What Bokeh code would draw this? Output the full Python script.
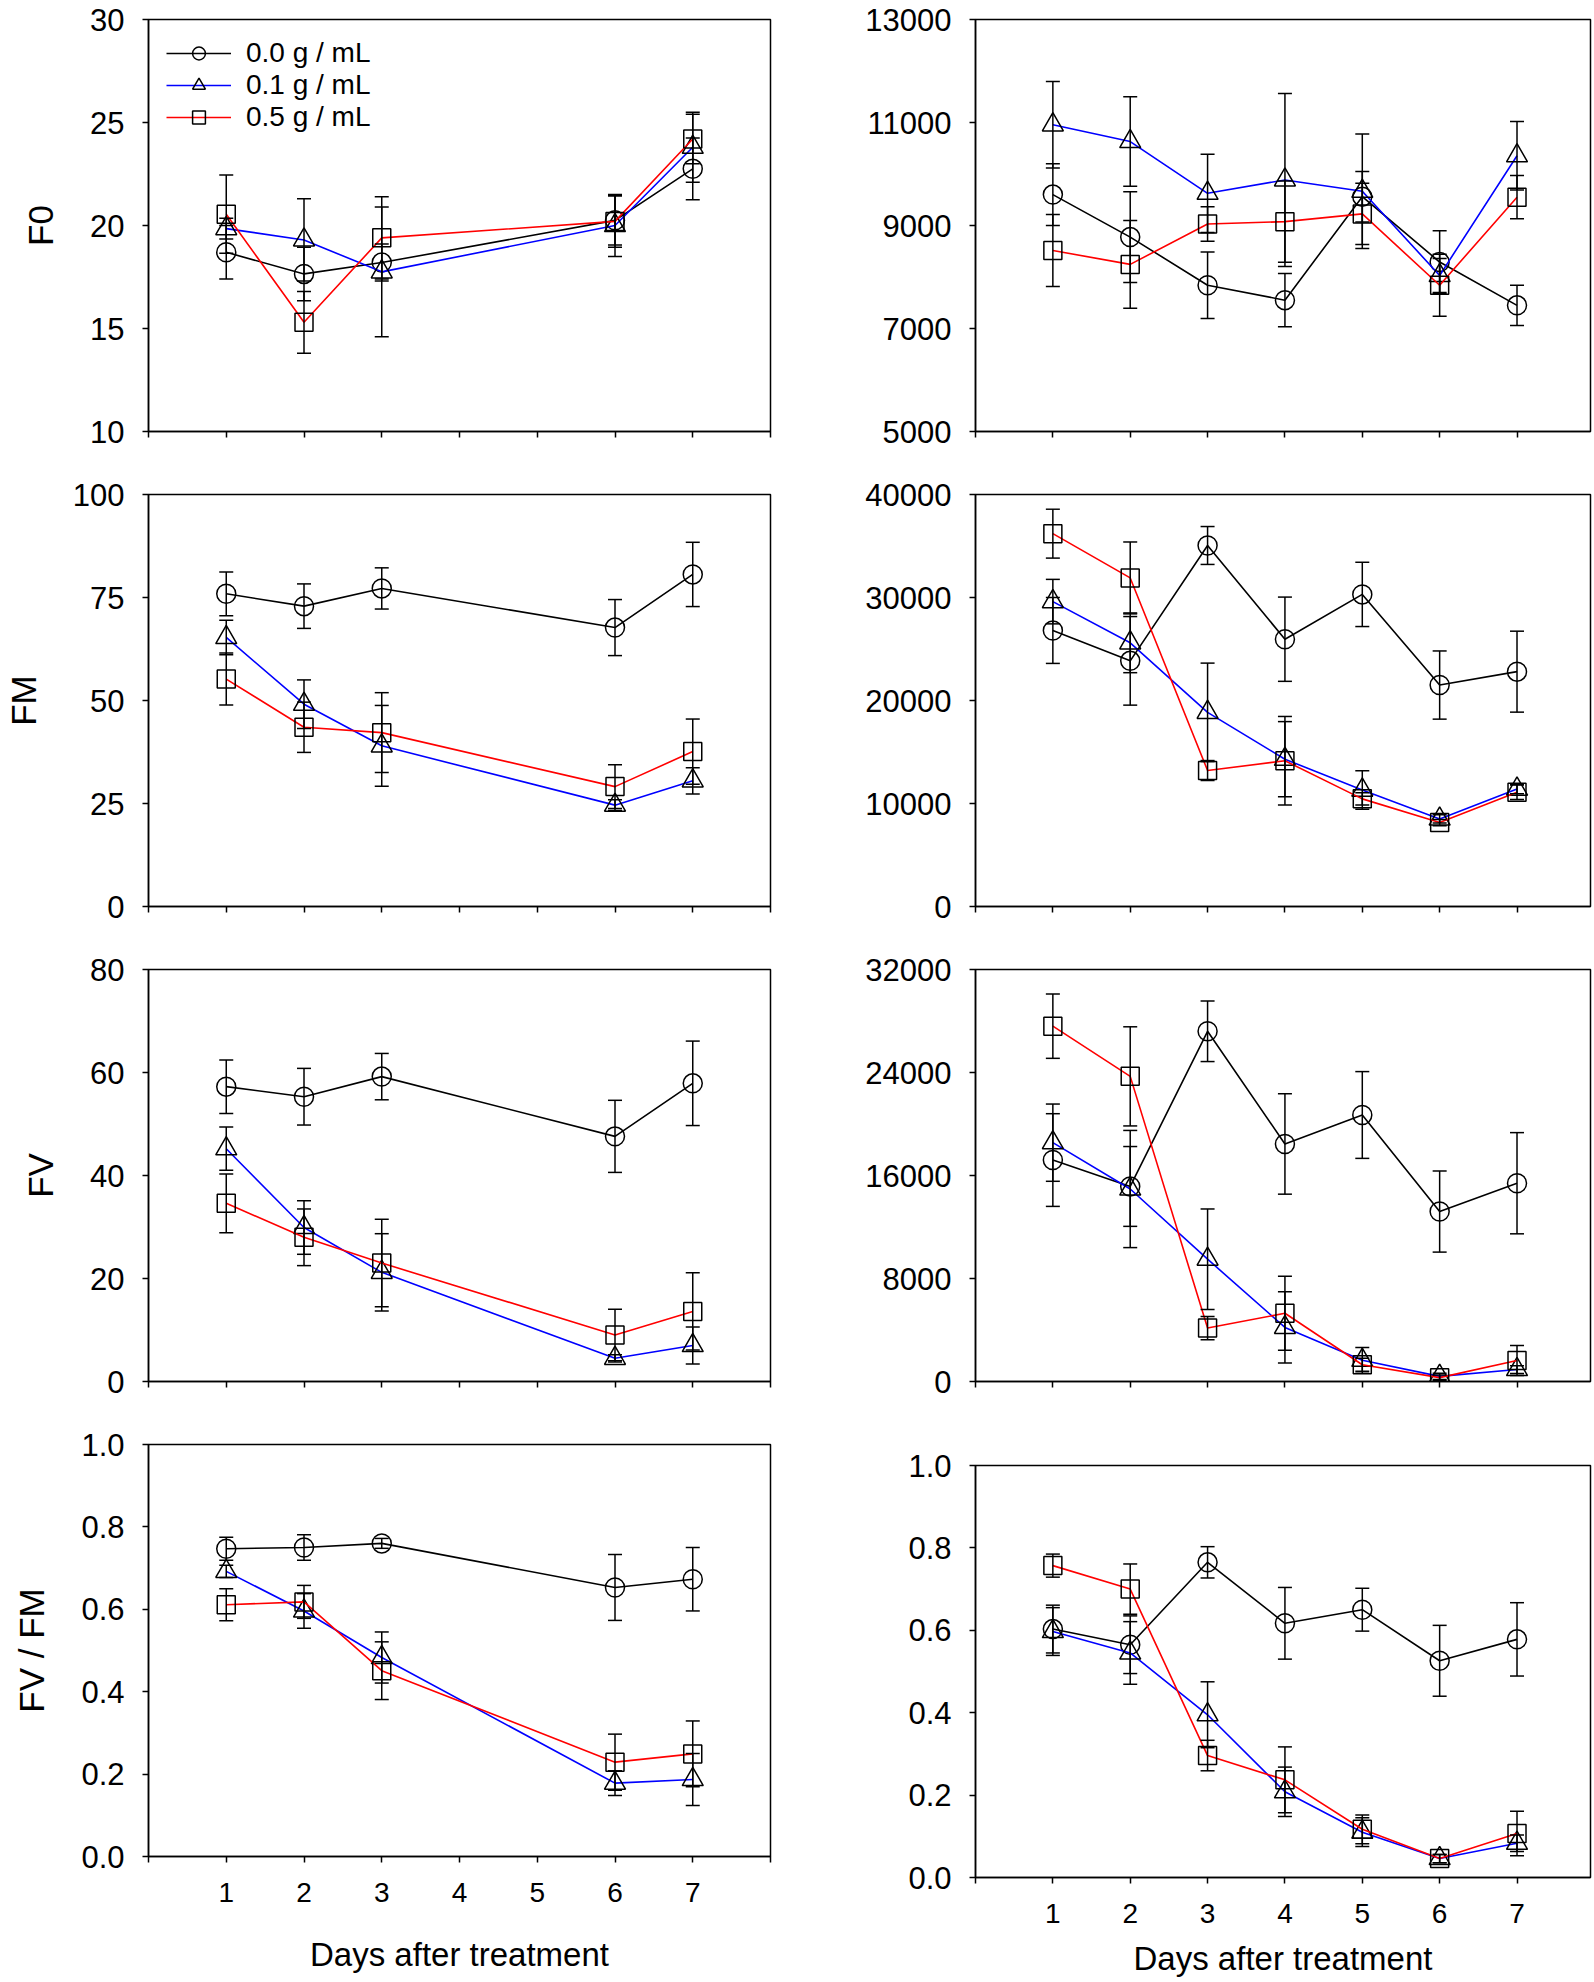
from bokeh.plotting import figure
from bokeh.models import (ColumnDataSource, Whisker, TeeHead, FixedTicker, Range1d,
                          Legend, LegendItem, PrintfTickFormatter)
from bokeh.layouts import row, column
from bokeh.embed import file_html
from bokeh.resources import INLINE

# ---------------- data ----------------
days_left = [1, 2, 3, 6, 7]
days_right = [1, 2, 3, 4, 5, 6, 7]
series_labels = ["0.0 g / mL", "0.1 g / mL", "0.5 g / mL"]
x_tick_labels = ["1", "2", "3", "4", "5", "6", "7"]

# F0 (left)
f0_l_c0 = [18.7, 17.65, 18.2, 20.25, 22.75]
f0_l_c0_err = [1.3, 1.3, 0.9, 1.2, 1.5]
f0_l_c1 = [19.85, 19.3, 17.75, 20.0, 23.8]
f0_l_c1_err = [0.5, 2.0, 3.15, 1.5, 1.7]
f0_l_c5 = [20.55, 15.3, 19.4, 20.2, 24.2]
f0_l_c5_err = [1.9, 1.5, 2.0, 1.25, 1.2]

# F0 (right)
f0_r_c0 = [9600, 8775, 7840, 7550, 9560, 8290, 7450]
f0_r_c0_err = [600, 880, 645, 516, 490, 610, 390]
f0_r_c1 = [10955, 10630, 9625, 9885, 9665, 8030, 10355]
f0_r_c1_err = [840, 870, 760, 1680, 1110, 330, 665]
f0_r_c5 = [8515, 8245, 9030, 9075, 9225, 7840, 9550]
f0_r_c5_err = [700, 850, 335, 790, 594, 600, 420]

# FM (left)
fm_l_c0 = [75.9, 72.9, 77.2, 67.7, 80.6]
fm_l_c0_err = [5.3, 5.4, 5.0, 6.8, 7.8]
fm_l_c1 = [65.3, 49.1, 39.0, 24.6, 30.5]
fm_l_c1_err = [4.2, 5.9, 9.8, 1.3, 3.2]
fm_l_c5 = [55.2, 43.5, 42.2, 29.1, 37.6]
fm_l_c5_err = [6.3, 6.1, 9.7, 5.3, 7.9]

# FM (right)
fm_r_c0 = [26800, 23850, 35050, 25950, 30300, 21500, 22800]
fm_r_c0_err = [3200, 4300, 1840, 4090, 3120, 3310, 3930]
fm_r_c1 = [29600, 25600, 18850, 14300, 11300, 8500, 11400]
fm_r_c1_err = [2160, 2900, 4780, 3650, 1870, 400, 450]
fm_r_c5 = [36200, 31900, 13200, 14150, 10450, 8150, 11100]
fm_r_c5_err = [2375, 3490, 970, 4300, 600, 300, 700]

# FV (left)
fv_l_c0 = [57.25, 55.3, 59.2, 47.6, 57.9]
fv_l_c0_err = [5.2, 5.5, 4.5, 7.0, 8.2]
fv_l_c1 = [45.2, 29.9, 21.2, 4.5, 7.0]
fv_l_c1_err = [4.2, 5.2, 7.5, 0.7, 3.6]
fv_l_c5 = [34.6, 28.0, 23.0, 9.05, 13.6]
fv_l_c5_err = [5.7, 5.5, 8.5, 5.0, 7.5]

# FV (right)
fv_r_c0 = [17200, 15150, 27200, 18450, 20700, 13200, 15400]
fv_r_c0_err = [3600, 3100, 2350, 3900, 3370, 3150, 3930]
fv_r_c1 = [18550, 14950, 9500, 4200, 1650, 400, 930]
fv_r_c1_err = [3000, 4550, 3900, 2770, 1000, 250, 300]
fv_r_c5 = [27600, 23700, 4150, 5300, 1300, 300, 1630]
fv_r_c5_err = [2500, 3850, 900, 2870, 500, 200, 1160]

# FV / FM (left)
ratio_l_c0 = [0.747, 0.750, 0.760, 0.653, 0.673]
ratio_l_c0_err = [0.028, 0.031, 0.012, 0.080, 0.077]
ratio_l_c1 = [0.692, 0.596, 0.483, 0.178, 0.187]
ratio_l_c1_err = [0.015, 0.042, 0.062, 0.030, 0.063]
ratio_l_c5 = [0.611, 0.618, 0.451, 0.229, 0.249]
ratio_l_c5_err = [0.039, 0.040, 0.070, 0.068, 0.080]

# FV / FM (right)
ratio_r_c0 = [0.603, 0.565, 0.765, 0.617, 0.650, 0.526, 0.578]
ratio_r_c0_err = [0.058, 0.070, 0.038, 0.087, 0.052, 0.086, 0.089]
ratio_r_c1 = [0.597, 0.545, 0.395, 0.208, 0.110, 0.046, 0.083]
ratio_r_c1_err = [0.058, 0.076, 0.080, 0.060, 0.035, 0.010, 0.020]
ratio_r_c5 = [0.757, 0.700, 0.296, 0.237, 0.117, 0.046, 0.107]
ratio_r_c5_err = [0.028, 0.061, 0.037, 0.080, 0.035, 0.010, 0.054]

y_ticks_f0_l = [10, 15, 20, 25, 30]
y_ticks_f0_r = [5000, 7000, 9000, 11000, 13000]
y_ticks_fm_l = [0, 25, 50, 75, 100]
y_ticks_fm_r = [0, 10000, 20000, 30000, 40000]
y_ticks_fv_l = [0, 20, 40, 60, 80]
y_ticks_fv_r = [0, 8000, 16000, 24000, 32000]
y_ticks_ratio = [0.0, 0.2, 0.4, 0.6, 0.8, 1.0]

# ---------------- styling ----------------
FONT = "Liberation Sans"
LINE_COLORS = ["black", "#0000ff", "#ff0000"]
MARKERS = ["circle", "triangle", "square"]
MARKER_SIZES = [19, 21, 18]

LEFT_W, RIGHT_W = 780, 812
LEFT_BL, LEFT_BR = 148, 10
RIGHT_BL, RIGHT_BR = 195, 2
FRAME_H = 412
ROW_H = 475
LAST_H = 555


def make_panel(days, series, errs, yticks, ylabel, fmt, side, row_idx,
               legend=False):
    last = row_idx == 3
    if side == "left":
        width, bl, br, xend = LEFT_W, LEFT_BL, LEFT_BR, 8
        top = 19
    else:
        width, bl, br, xend = RIGHT_W, RIGHT_BL, RIGHT_BR, 7.95
        top = 40 if last else 19
    height = LAST_H if last else ROW_H
    bottom = height - top - FRAME_H

    p = figure(width=width, height=height, output_backend="svg",
               toolbar_location=None,
               x_range=Range1d(0, xend), y_range=Range1d(yticks[0], yticks[-1]),
               min_border_left=bl, min_border_right=br,
               min_border_top=top, min_border_bottom=bottom)
    p.background_fill_color = "white"
    p.border_fill_color = "white"
    p.outline_line_color = "black"
    p.outline_line_width = 1.5
    p.xgrid.visible = False
    p.ygrid.visible = False

    # x axis
    xa = p.xaxis[0]
    xa.ticker = FixedTicker(ticks=list(range(0, 9)))
    if last:
        ov = {0: "", 8: ""}
        for i, lab in enumerate(x_tick_labels):
            ov[i + 1] = lab
        xa.major_label_overrides = ov
        xa.axis_label = "Days after treatment"
        xa.axis_label_text_font = FONT
        xa.axis_label_text_font_size = "33px"
        xa.axis_label_text_font_style = "normal"
        xa.axis_label_text_color = "black"
        xa.axis_label_standoff = 31 if side == "left" else 14
    else:
        xa.major_label_overrides = {i: "" for i in range(0, 9)}
    xa.major_label_text_font = FONT
    xa.major_label_text_font_size = "28px"
    xa.major_label_text_color = "black"
    xa.major_label_standoff = 20
    xa.major_tick_out = 6
    xa.major_tick_in = 0
    xa.minor_tick_out = 0
    xa.minor_tick_in = 0
    xa.axis_line_width = 1.5
    xa.major_tick_line_width = 1.5

    # y axis
    ya = p.yaxis[0]
    ya.ticker = FixedTicker(ticks=yticks)
    ya.formatter = PrintfTickFormatter(format=fmt)
    ya.major_label_text_font = FONT
    ya.major_label_text_font_size = "31px"
    ya.major_label_text_color = "black"
    ya.major_label_standoff = 18
    ya.major_tick_out = 6
    ya.major_tick_in = 0
    ya.minor_tick_out = 0
    ya.minor_tick_in = 0
    ya.axis_line_width = 1.5
    ya.major_tick_line_width = 1.5
    if ylabel:
        ya.axis_label = ylabel
        ya.axis_label_text_font = FONT
        ya.axis_label_text_font_size = "35px"
        ya.axis_label_text_font_style = "normal"
        ya.axis_label_text_color = "black"
        ya.axis_label_standoff = 27

    items = []
    for k in range(3):
        vals = series[k]
        er = errs[k]
        src = ColumnDataSource(dict(
            x=days, y=vals,
            upper=[v + e for v, e in zip(vals, er)],
            lower=[v - e for v, e in zip(vals, er)]))
        lr = p.line("x", "y", source=src, line_color=LINE_COLORS[k], line_width=1.6)
        w = Whisker(source=src, base="x", upper="upper", lower="lower",
                    dimension="height", line_color="black", line_width=1.5,
                    upper_head=TeeHead(size=14, line_color="black", line_width=1.5),
                    lower_head=TeeHead(size=14, line_color="black", line_width=1.5))
        w.level = "glyph"
        p.add_layout(w)
        mr = p.scatter("x", "y", source=src, marker=MARKERS[k], size=MARKER_SIZES[k],
                       fill_alpha=0, line_color="black", line_width=1.5)
        items.append(LegendItem(label=series_labels[k], renderers=[lr, mr]))

    if legend:
        lg = Legend(items=items, location="top_left",
                    border_line_alpha=0, background_fill_alpha=0,
                    label_text_font=FONT, label_text_font_size="28px",
                    label_text_color="black",
                    glyph_width=65, glyph_height=32, label_height=32,
                    spacing=0, padding=18, margin=0, label_standoff=15)
        p.add_layout(lg)
    return p


p1 = make_panel(days_left, [f0_l_c0, f0_l_c1, f0_l_c5],
                [f0_l_c0_err, f0_l_c1_err, f0_l_c5_err],
                y_ticks_f0_l, "F0", "%d", "left", 0, legend=True)
p2 = make_panel(days_right, [f0_r_c0, f0_r_c1, f0_r_c5],
                [f0_r_c0_err, f0_r_c1_err, f0_r_c5_err],
                y_ticks_f0_r, None, "%d", "right", 0)
p3 = make_panel(days_left, [fm_l_c0, fm_l_c1, fm_l_c5],
                [fm_l_c0_err, fm_l_c1_err, fm_l_c5_err],
                y_ticks_fm_l, "FM", "%d", "left", 1)
p4 = make_panel(days_right, [fm_r_c0, fm_r_c1, fm_r_c5],
                [fm_r_c0_err, fm_r_c1_err, fm_r_c5_err],
                y_ticks_fm_r, None, "%d", "right", 1)
p5 = make_panel(days_left, [fv_l_c0, fv_l_c1, fv_l_c5],
                [fv_l_c0_err, fv_l_c1_err, fv_l_c5_err],
                y_ticks_fv_l, "FV", "%d", "left", 2)
p6 = make_panel(days_right, [fv_r_c0, fv_r_c1, fv_r_c5],
                [fv_r_c0_err, fv_r_c1_err, fv_r_c5_err],
                y_ticks_fv_r, None, "%d", "right", 2)
p7 = make_panel(days_left, [ratio_l_c0, ratio_l_c1, ratio_l_c5],
                [ratio_l_c0_err, ratio_l_c1_err, ratio_l_c5_err],
                y_ticks_ratio, "FV / FM", "%.1f", "left", 3)
p8 = make_panel(days_right, [ratio_r_c0, ratio_r_c1, ratio_r_c5],
                [ratio_r_c0_err, ratio_r_c1_err, ratio_r_c5_err],
                y_ticks_ratio, None, "%.1f", "right", 3)

layout = row(column(p1, p3, p5, p7, spacing=0), column(p2, p4, p6, p8, spacing=0), spacing=0)

open("out.html", "w").write(file_html(layout, INLINE))
